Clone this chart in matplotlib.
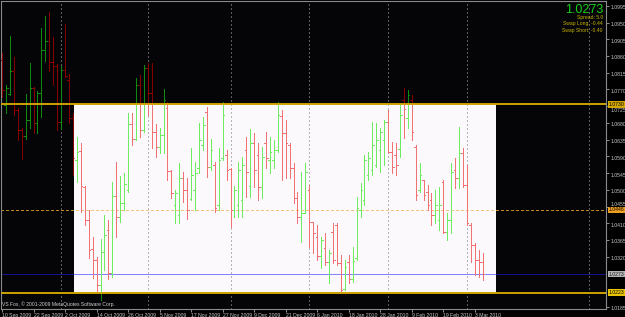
"""Daily OHLC bar chart in the style of a MetaTrader window, with a
price channel box and horizontal levels."""
import matplotlib.pyplot as plt
import matplotlib.transforms as mtransforms
from matplotlib.collections import LineCollection
from matplotlib.patches import Rectangle

plt.rcParams['font.family'] = ['Liberation Sans', 'DejaVu Sans']

# daily bars, 10 Sep 2009 .. 5 Mar 2010
opens = [1.0849, 1.0728, 1.0758, 1.0820, 1.0715, 1.0661, 1.0645, 1.0688, 1.0774, 1.0680,
         1.0760, 1.0876, 1.0900, 1.0844, 1.0833, 1.0682, 1.0822, 1.0795, 1.0693, 1.0580,
         1.0605, 1.0507, 1.0419, 1.0341, 1.0311, 1.0244, 1.0333, 1.0392, 1.0276, 1.0483,
         1.0427, 1.0464, 1.0499, 1.0677, 1.0637, 1.0782, 1.0661, 1.0828, 1.0760, 1.0656,
         1.0615, 1.0647, 1.0720, 1.0551, 1.0459, 1.0432, 1.0532, 1.0499, 1.0475, 1.0499,
         1.0559, 1.0621, 1.0709, 1.0561, 1.0567, 1.0459, 1.0586, 1.0594, 1.0556, 1.0446,
         1.0459, 1.0473, 1.0607, 1.0510, 1.0626, 1.0594, 1.0507, 1.0626, 1.0580, 1.0580,
         1.0607, 1.0699, 1.0653, 1.0621, 1.0559, 1.0478, 1.0427, 1.0437, 1.0499, 1.0413,
         1.0373, 1.0322, 1.0343, 1.0306, 1.0386, 1.0405, 1.0303, 1.0233, 1.0306, 1.0260,
         1.0316, 1.0446, 1.0473, 1.0540, 1.0553, 1.0567, 1.0607, 1.0634, 1.0682, 1.0602,
         1.0594, 1.0610, 1.0742, 1.0693, 1.0742, 1.0615, 1.0499, 1.0526, 1.0494, 1.0473,
         1.0432, 1.0419, 1.0521, 1.0386, 1.0419, 1.0553, 1.0532, 1.0599, 1.0513, 1.0405,
         1.0351, 1.0311, 1.0306]
highs = [1.0868, 1.0782, 1.0914, 1.0857, 1.0720, 1.0666, 1.0758, 1.0841, 1.0777, 1.0766,
         1.0935, 1.0968, 1.0978, 1.0911, 1.0838, 1.0833, 1.0946, 1.0812, 1.0707, 1.0642,
         1.0626, 1.0510, 1.0446, 1.0373, 1.0319, 1.0368, 1.0432, 1.0419, 1.0521, 1.0575,
         1.0537, 1.0545, 1.0707, 1.0707, 1.0801, 1.0809, 1.0836, 1.0841, 1.0841, 1.0677,
         1.0666, 1.0771, 1.0736, 1.0553, 1.0499, 1.0572, 1.0548, 1.0532, 1.0612, 1.0575,
         1.0680, 1.0696, 1.0723, 1.0637, 1.0575, 1.0612, 1.0736, 1.0607, 1.0559, 1.0510,
         1.0575, 1.0588, 1.0642, 1.0664, 1.0653, 1.0626, 1.0615, 1.0656, 1.0642, 1.0634,
         1.0736, 1.0715, 1.0688, 1.0626, 1.0572, 1.0494, 1.0548, 1.0572, 1.0513, 1.0413,
         1.0405, 1.0373, 1.0384, 1.0338, 1.0411, 1.0411, 1.0324, 1.0311, 1.0324, 1.0346,
         1.0481, 1.0518, 1.0594, 1.0602, 1.0682, 1.0680, 1.0666, 1.0688, 1.0715, 1.0629,
         1.0626, 1.0733, 1.0774, 1.0769, 1.0755, 1.0621, 1.0572, 1.0526, 1.0513, 1.0491,
         1.0499, 1.0507, 1.0526, 1.0437, 1.0572, 1.0586, 1.0669, 1.0612, 1.0567, 1.0411,
         1.0357, 1.0338, 1.0330]
lows = [1.0750, 1.0707, 1.0755, 1.0701, 1.0634, 1.0583, 1.0637, 1.0666, 1.0653, 1.0653,
        1.0696, 1.0847, 1.0820, 1.0782, 1.0661, 1.0664, 1.0803, 1.0680, 1.0540, 1.0521,
        1.0440, 1.0405, 1.0316, 1.0263, 1.0222, 1.0203, 1.0284, 1.0260, 1.0265, 1.0373,
        1.0413, 1.0446, 1.0494, 1.0621, 1.0634, 1.0642, 1.0656, 1.0701, 1.0612, 1.0588,
        1.0599, 1.0599, 1.0526, 1.0478, 1.0411, 1.0411, 1.0467, 1.0421, 1.0473, 1.0446,
        1.0545, 1.0607, 1.0534, 1.0553, 1.0440, 1.0446, 1.0580, 1.0526, 1.0400, 1.0427,
        1.0427, 1.0427, 1.0481, 1.0481, 1.0507, 1.0473, 1.0478, 1.0559, 1.0545, 1.0559,
        1.0602, 1.0526, 1.0532, 1.0532, 1.0464, 1.0411, 1.0359, 1.0437, 1.0346, 1.0330,
        1.0311, 1.0290, 1.0298, 1.0249, 1.0303, 1.0298, 1.0222, 1.0230, 1.0249, 1.0252,
        1.0311, 1.0427, 1.0459, 1.0526, 1.0540, 1.0561, 1.0548, 1.0567, 1.0599, 1.0545,
        1.0540, 1.0588, 1.0639, 1.0666, 1.0634, 1.0473, 1.0494, 1.0473, 1.0446, 1.0405,
        1.0411, 1.0392, 1.0384, 1.0365, 1.0384, 1.0505, 1.0505, 1.0507, 1.0405, 1.0306,
        1.0271, 1.0265, 1.0257]
closes = [1.0769, 1.0774, 1.0820, 1.0715, 1.0661, 1.0645, 1.0688, 1.0774, 1.0680, 1.0760,
          1.0876, 1.0900, 1.0844, 1.0833, 1.0682, 1.0822, 1.0806, 1.0693, 1.0586, 1.0602,
          1.0510, 1.0419, 1.0338, 1.0311, 1.0244, 1.0333, 1.0378, 1.0276, 1.0483, 1.0427,
          1.0464, 1.0516, 1.0677, 1.0637, 1.0782, 1.0661, 1.0828, 1.0760, 1.0656, 1.0615,
          1.0647, 1.0742, 1.0551, 1.0491, 1.0491, 1.0532, 1.0499, 1.0446, 1.0540, 1.0545,
          1.0634, 1.0674, 1.0561, 1.0607, 1.0451, 1.0580, 1.0701, 1.0553, 1.0446, 1.0499,
          1.0553, 1.0567, 1.0548, 1.0626, 1.0553, 1.0507, 1.0588, 1.0586, 1.0602, 1.0607,
          1.0701, 1.0653, 1.0626, 1.0559, 1.0478, 1.0427, 1.0437, 1.0548, 1.0413, 1.0384,
          1.0322, 1.0365, 1.0306, 1.0330, 1.0311, 1.0303, 1.0230, 1.0292, 1.0260, 1.0308,
          1.0451, 1.0499, 1.0580, 1.0586, 1.0621, 1.0634, 1.0656, 1.0682, 1.0602, 1.0561,
          1.0567, 1.0701, 1.0717, 1.0755, 1.0656, 1.0486, 1.0540, 1.0486, 1.0459, 1.0432,
          1.0459, 1.0459, 1.0386, 1.0419, 1.0548, 1.0532, 1.0599, 1.0513, 1.0411, 1.0351,
          1.0311, 1.0306, 1.0273]

date_labels = ['10 Sep 2009', '22 Sep 2009', '2 Oct 2009', '14 Oct 2009',
               '26 Oct 2009', '5 Nov 2009', '17 Nov 2009', '27 Nov 2009',
               '9 Dec 2009', '21 Dec 2009', '6 Jan 2010', '18 Jan 2010',
               '28 Jan 2010', '9 Feb 2010', '19 Feb 2010', '3 Mar 2010']
price_ticks = [1.0995, 1.0950, 1.0905, 1.0860, 1.0815, 1.0770, 1.0725, 1.0680,
               1.0635, 1.0590, 1.0545, 1.0500, 1.0455, 1.0410, 1.0365, 1.0320,
               1.0185]
grid_bars = [15, 37, 58, 78, 98, 118, 149]   # month starts + one far right

channel_top = 1.0730
channel_bottom = 1.0223
mid_level = 1.0446
bid = 1.0273
box_first_bar = 18.15
box_last_bar = 125.3

XMIN, XMAX = -0.254, 153.3
YMIN, YMAX = 1.01792, 1.10080


def main():
    fig = plt.figure(figsize=(6.25, 3.17), dpi=100, facecolor='black')
    ax = fig.add_axes([1 / 625, 8 / 317, 605 / 625, 308 / 317])
    ax.set_facecolor('#050507')
    ax.set_xlim(XMIN, XMAX)
    ax.set_ylim(YMIN, YMAX)

    # white channel box (things inside it are drawn in lighter colours)
    box = Rectangle((box_first_bar, channel_bottom), box_last_bar - box_first_bar,
                    channel_top - channel_bottom, facecolor='#FBF9FB',
                    edgecolor='none', zorder=1)
    ax.add_patch(box)

    def draw_twice(segs, dark, light, lw, ls='solid', z=2.0):
        outer = LineCollection(segs, colors=dark, linewidths=lw, linestyles=ls,
                               zorder=z, antialiased=False)
        ax.add_collection(outer)
        inner = LineCollection(segs, colors=light, linewidths=lw, linestyles=ls,
                               zorder=z + 0.1, antialiased=False)
        ax.add_collection(inner)
        inner.set_clip_path(box)

    # grid and levels
    draw_twice([[(g, YMIN), (g, YMAX)] for g in grid_bars],
               '#5c5c5c', '#b4b4b4', 0.6, (0, (1.5, 2.5)), 1.5)
    draw_twice([[(XMIN, mid_level), (XMAX, mid_level)]],
               '#C08420', '#F4C27C', 0.6, (0, (2.5, 2.5)), 1.6)
    draw_twice([[(XMIN, bid), (XMAX, bid)]], '#12128C', '#8282FF', 0.6, 'solid', 1.7)

    # OHLC bars
    up, down = [], []
    tick = 0.4
    for i, (o, h, l, c) in enumerate(zip(opens, highs, lows, closes)):
        segs = [[(i, l), (i, h)], [(i - tick, o), (i, o)], [(i, c), (i + tick, c)]]
        (up if c > o else down).extend(segs)
    draw_twice(up, '#0E8A0E', '#6CEC5E', 0.6, 'solid', 3)
    draw_twice(down, '#860000', '#F07272', 0.6, 'solid', 3)

    for lvl in (channel_top, channel_bottom):
        ax.axhline(lvl, color='#CDA200', lw=1.4, zorder=5)

    for side in ax.spines.values():
        side.set_color('#8a8a8a')
        side.set_linewidth(0.8)

    ax.yaxis.tick_right()
    ax.set_yticks(price_ticks)
    ax.set_yticklabels([f'{v:.4f}' for v in price_ticks])
    ax.tick_params(axis='y', colors='#c8c8c8', labelsize=3.7, length=2,
                   width=0.5, pad=1)
    # scale labels sit a little below their level; two are nudged off the boxes
    nudge = {1.0725: 4.0, 1.0455: -2.8}
    for lbl, v in zip(ax.get_yticklabels(), price_ticks):
        dy = nudge.get(v, 1.5)
        lbl.set_transform(lbl.get_transform() + mtransforms.ScaledTranslation(
            0, -dy / 100, fig.dpi_scale_trans))
    ax.set_xticks(range(0, 8 * len(date_labels), 8))
    ax.set_xticklabels(date_labels)
    ax.tick_params(axis='x', colors='#c8c8c8', labelsize=3.7, length=2,
                   width=0.5, pad=1)
    for lbl in ax.get_xticklabels():
        lbl.set_ha('left')

    # price boxes on the scale
    trans = mtransforms.blended_transform_factory(ax.transAxes, ax.transData)
    for val, bg, fg in [(channel_top, '#D4A800', 'black'),
                        (mid_level, '#F0A020', 'black'),
                        (bid, '#B4B4B4', '#202020'),
                        (channel_bottom, '#E8C400', 'black')]:
        ax.text(1.004, val, f'{val:.4f}', transform=trans, fontsize=3.7,
                color=fg, ha='left', va='center', clip_on=False, zorder=10,
                bbox=dict(boxstyle='square,pad=0.15', fc=bg, ec='none'))

    fig.text(603 / 625, 1 - 10 / 317, f'{bid:.4f}', color='#18D018',
             fontsize=9, ha='right', va='center')
    info = ['Spread: 5.0', 'Swap Long: -0.44', 'Swap Short: -0.40']
    for k, line in enumerate(info):
        fig.text(603 / 625, 1 - (17.5 + 6.5 * k) / 317, line, color='#C8B400',
                 fontsize=3.6, ha='right', va='center')
    fig.text(2 / 625, 1 - 304 / 317,
             'VS Fox, \u00a9 2001-2009 MetaQuotes Software Corp.',
             color='#d0d0d0', fontsize=3.6, ha='left', va='center')

    fig.savefig('out.png', dpi=100, facecolor='black')


if __name__ == '__main__':
    main()
